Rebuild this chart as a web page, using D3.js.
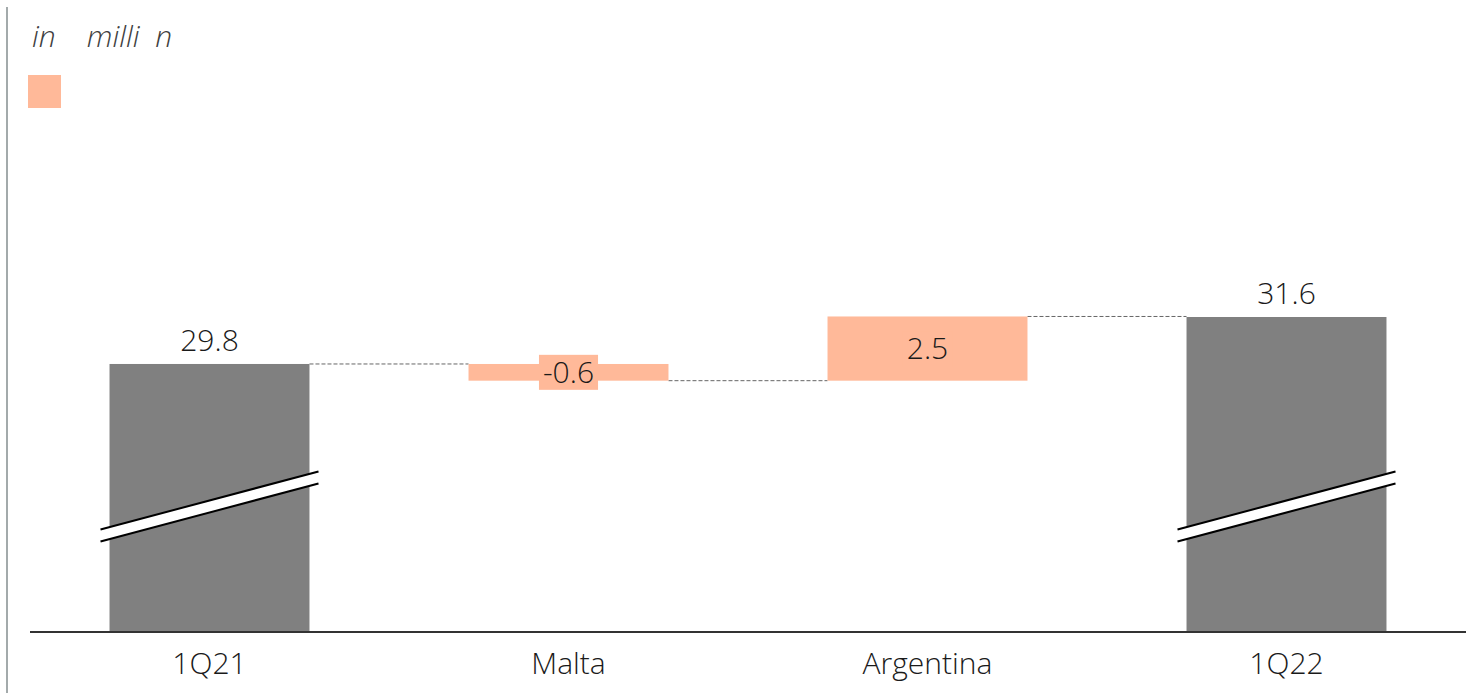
<!DOCTYPE html>
<html>
<head>
<meta charset="utf-8">
<script src="https://cdn.jsdelivr.net/npm/d3@7"></script>
<style>
  html, body { margin: 0; padding: 0; background: #fff; }
  svg { display: block; font-family: "Open Sans", sans-serif; }
</style>
</head>
<body>
<div id="chart"></div>
<script>
// waterfall data
const categories = ['1Q21', 'Malta', 'Argentina', '1Q22'];
const values = [29.8, -0.64, 2.46, 31.6];
const kinds = ['total', 'delta', 'delta', 'total'];
const unitLabel = 'in    milli  n';

const width = 1474, height = 693;
const salmon = '#ffb999', grey = '#808080';

const svg = d3.select('#chart').append('svg')
  .attr('width', width)
  .attr('height', height);

// left border line
svg.append('line')
  .attr('x1', 7).attr('x2', 7).attr('y1', 7).attr('y2', height)
  .attr('stroke', '#a3aaab').attr('stroke-width', 2);

// unit caption + legend swatch
svg.append('text')
  .attr('x', 32).attr('y', 47)
  .attr('font-size', 30).attr('font-style', 'italic').attr('font-weight', 300)
  .attr('fill', '#404040')
  .style('white-space', 'pre')
  .text(unitLabel);

svg.append('rect')
  .attr('x', 28).attr('y', 75).attr('width', 33).attr('height', 33)
  .attr('fill', salmon);

// compute bar extents
let running = 0;
const bars = categories.map((c, i) => {
  let lo, hi;
  if (kinds[i] === 'total') {
    running = values[i];
    lo = null; hi = values[i];
  } else {
    const start = running;
    running += values[i];
    lo = Math.min(start, running); hi = Math.max(start, running);
  }
  return { cat: c, value: values[i], kind: kinds[i], lo, hi, end: running };
});

const x = d3.scaleBand()
  .domain(categories)
  .range([30, 1466])
  .paddingInner(0.443)
  .paddingOuter(0.2215);

// broken axis: baseline stands for ~19.5
const y = d3.scaleLinear()
  .domain([19.53, 31.6])
  .range([632, 317]);

const fmt = v => d3.format('.1f')(v).replace('\u2212', '-');

// connectors
for (let i = 0; i < bars.length - 1; i++) {
  const yy = y(bars[i].end);
  svg.append('line')
    .attr('x1', x(bars[i].cat) + x.bandwidth())
    .attr('x2', x(bars[i + 1].cat))
    .attr('y1', yy).attr('y2', yy)
    .attr('stroke', '#666').attr('stroke-width', 1)
    .attr('stroke-dasharray', '4,2');
}

const g = svg.append('g');

g.selectAll('rect.bar')
  .data(bars)
  .enter()
  .append('rect')
  .attr('class', 'bar')
  .attr('x', d => x(d.cat))
  .attr('width', x.bandwidth())
  .attr('y', d => y(d.hi))
  .attr('height', d => d.kind === 'total' ? y.range()[0] - y(d.hi) : y(d.lo) - y(d.hi))
  .attr('fill', d => d.kind === 'total' ? grey : salmon);

// break marks on total bars
const totals = bars.filter(d => d.kind === 'total');
totals.forEach(d => {
  const x0 = x(d.cat) - 9, x1 = x(d.cat) + x.bandwidth() + 9;
  const yl = 535.5, yr = 477.5, gap = 12;
  g.append('path')
    .attr('d', `M${x0},${yl - gap / 2}L${x1},${yr - gap / 2}L${x1},${yr + gap / 2}L${x0},${yl + gap / 2}Z`)
    .attr('fill', '#fff');
  [-gap / 2, gap / 2].forEach(o => {
    g.append('line')
      .attr('x1', x0).attr('y1', yl + o)
      .attr('x2', x1).attr('y2', yr + o)
      .attr('stroke', '#000').attr('stroke-width', 2);
  });
});

// value labels
bars.forEach(d => {
  const cx = x(d.cat) + x.bandwidth() / 2;
  if (d.kind === 'total') {
    g.append('text')
      .attr('x', cx).attr('y', y(d.hi) - 13)
      .attr('text-anchor', 'middle')
      .attr('font-size', 30).attr('font-weight', 300).attr('fill', '#1a1a1a')
      .text(fmt(d.value));
  } else {
    const cy = (y(d.lo) + y(d.hi)) / 2;
    const t = g.append('text')
      .attr('x', cx).attr('y', cy)
      .attr('dy', '0.36em')
      .attr('text-anchor', 'middle')
      .attr('font-size', 30).attr('font-weight', 300).attr('fill', '#1a1a1a')
      .text(fmt(d.value));
    const bb = t.node().getBBox();
    g.insert('rect', () => t.node())
      .attr('x', bb.x - 4).attr('y', cy - 17.5)
      .attr('width', bb.width + 8).attr('height', 35)
      .attr('fill', salmon);
  }
});

// category axis
const axis = svg.append('g').attr('transform', `translate(0,${y.range()[0]})`);
axis.append('line')
  .attr('x1', 30).attr('x2', 1466)
  .attr('stroke', '#333').attr('stroke-width', 2);
axis.selectAll('text')
  .data(categories)
  .enter()
  .append('text')
  .attr('x', d => x(d) + x.bandwidth() / 2)
  .attr('y', 42)
  .attr('text-anchor', 'middle')
  .attr('font-size', 30).attr('font-weight', 300).attr('fill', '#1a1a1a')
  .text(d => d);
</script>
</body>
</html>
